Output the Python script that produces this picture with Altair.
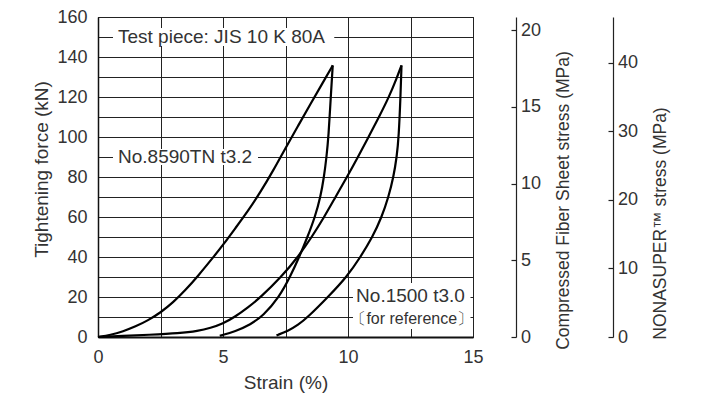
import altair as alt
import pandas as pd

# ---------------- data ----------------
# No.8590TN t3.2 (left loop)
load_8590_strain = [0.0, 0.5, 1.0, 1.5, 2.0, 2.5, 3.0, 3.5, 4.0, 4.62, 5.0, 5.5, 6.0, 6.5, 7.0, 7.5, 8.0, 8.5, 9.0, 9.39]
load_8590_force = [0.0, 1.0, 2.8, 5.2, 8.3, 12.2, 17.2, 23.5, 30.5, 40.0, 46.0, 54.5, 63.0, 72.5, 83.0, 94.5, 105.5, 116.5, 127.3, 135.8]
unload_8590_strain = [4.87, 5.5, 6.1, 6.6, 7.25, 7.68, 8.05, 8.38, 8.68, 8.9, 9.04, 9.14, 9.22, 9.31, 9.39]
unload_8590_force = [0.6, 2.8, 6.3, 10.5, 20.0, 30.0, 40.0, 50.0, 60.0, 70.0, 80.0, 90.0, 100.0, 120.0, 135.8]

# No.1500 t3.0 (right loop, for reference)
load_1500_strain = [0.0, 1.0, 2.0, 3.26, 4.0, 4.5, 5.0, 5.47, 6.0, 6.5, 7.33, 8.0, 8.55, 9.05, 9.5, 9.96, 10.4, 10.82, 11.24, 11.64, 11.95, 12.14]
load_1500_force = [0.0, 0.5, 1.1, 1.9, 3.0, 4.5, 6.7, 10.0, 14.8, 19.8, 30.0, 40.0, 50.0, 60.0, 70.0, 80.0, 90.0, 100.0, 110.0, 120.0, 129.5, 135.8]
unload_1500_strain = [7.14, 7.6, 8.0, 8.4, 9.2, 9.95, 10.5, 10.98, 11.35, 11.62, 11.82, 11.95, 12.03, 12.1, 12.14]
unload_1500_force = [0.8, 3.0, 6.0, 10.0, 20.0, 30.0, 40.0, 50.0, 60.0, 70.0, 80.0, 90.0, 100.0, 120.0, 135.8]

# axes
x_ticks = [0, 2.5, 5, 7.5, 10, 12.5, 15]
y_ticks = [0, 10, 20, 30, 40, 50, 60, 70, 80, 90, 100, 110, 120, 130, 140, 150, 160]
force_max = 160
fiber_max = 20.85        # Compressed Fiber Sheet stress at 160 kN
fiber_ticks = [0, 5, 10, 15, 20]
nona_max = 46.65         # NONASUPER stress at 160 kN
nona_ticks = [0, 10, 20, 30, 40]

# annotations (text, x, y)
label_text = ["Test piece: JIS 10 K 80A", "No.8590TN t3.2", "No.1500 t3.0"]
label_x = [0.8, 0.8, 12.5]
label_y = [150, 90, 20.5]
label_align = ["left", "left", "center"]
note_text = ["〔for reference〕"]
note_x = [12.55]
note_y = [9]
# white boxes behind annotations (strain x1,x2 ; force y1,y2)
box_x1 = [0.6, 0.6, 10.2]
box_x2 = [9.45, 6.4, 14.9]
box_y1 = [145.5, 86, 4]
box_y2 = [154.5, 94, 27]

FONT = "Liberation Sans"
TXT = "#333333"

rows = []
for name, xs, ys in [
    ("8590 load", load_8590_strain, load_8590_force),
    ("8590 unload", unload_8590_strain, unload_8590_force),
    ("1500 load", load_1500_strain, load_1500_force),
    ("1500 unload", unload_1500_strain, unload_1500_force),
]:
    for i, (a, b) in enumerate(zip(xs, ys)):
        rows.append({"series": name, "strain": a, "force": b, "i": i})
curves = pd.DataFrame(rows)

xscale = alt.Scale(domain=[0, 15], nice=False, zero=False)
yscale = alt.Scale(domain=[0, force_max], nice=False)

x_axis = alt.Axis(
    values=x_ticks, grid=True, ticks=False, labelPadding=11, labelFlush=False,
    labelExpr="datum.value % 5 == 0 ? datum.label : ''",
    title="Strain (%)", titleY=45, titleBaseline="middle",
    domainWidth=2, domainColor="#111",
)
y_axis = alt.Axis(
    values=y_ticks, grid=True, ticks=False, labelPadding=11, labelFlush=False,
    labelExpr="datum.value % 20 == 0 ? datum.label : ''",
    title="Tightening force (kN)", titleX=-57, titleY=152,
    titleAngle=270, titleAlign="center", titleBaseline="middle",
    domainWidth=1.5, domainColor="#111",
)


def X(field):
    return alt.X(field, scale=xscale, axis=x_axis, title="Strain (%)")


def Y(field):
    return alt.Y(field, scale=yscale, axis=y_axis, title="Tightening force (kN)")


lines = alt.Chart(curves).mark_line(
    interpolate="basis", strokeWidth=2.2, color="#000"
).encode(
    x=X("strain:Q"),
    y=Y("force:Q"),
    detail="series:N",
    order="i:Q",
)

boxes = alt.Chart(pd.DataFrame({"x1": box_x1, "x2": box_x2, "y1": box_y1, "y2": box_y2})).mark_rect(
    color="white"
).encode(
    x=X("x1:Q"), x2="x2:Q",
    y=Y("y1:Q"), y2="y2:Q",
)

labels_df = pd.DataFrame({"t": label_text, "x": label_x, "y": label_y, "a": label_align})
texts_left = alt.Chart(labels_df[labels_df.a == "left"]).mark_text(
    align="left", baseline="middle", font=FONT, fontSize=19, color=TXT
).encode(x=X("x:Q"), y=Y("y:Q"), text="t:N")
texts_center = alt.Chart(labels_df[labels_df.a == "center"]).mark_text(
    align="center", baseline="middle", font=FONT, fontSize=19, color=TXT
).encode(x=X("x:Q"), y=Y("y:Q"), text="t:N")
notes = alt.Chart(pd.DataFrame({"t": note_text, "x": note_x, "y": note_y})).mark_text(
    align="center", baseline="middle", font=FONT, fontSize=16, color=TXT
).encode(x=X("x:Q"), y=Y("y:Q"), text="t:N")

main = alt.layer(lines, boxes, texts_left, texts_center, notes)


def stress_axis(values, vmax, title, axis_x, title_dx, title_cy):
    df = pd.DataFrame({"v": [0, vmax]})
    return alt.Chart(df).mark_point(opacity=0).encode(
        x=alt.value(0),
        y=alt.Y("v:Q", scale=alt.Scale(domain=[0, vmax], nice=False),
                axis=alt.Axis(
                    orient="left", offset=-axis_x, values=values, grid=False,
                    ticks=True, tickSize=5, tickColor="#222", tickWidth=1.2,
                    domainColor="#222", domainWidth=1.2,
                    labelAlign="left", labelPadding=-9.5, labelFlush=False,
                    title=title, titleX=title_dx, titleY=title_cy, titleFontSize=17.5,
                    titleAngle=270, titleAlign="center", titleBaseline="middle",
                )),
    )


ax_fiber = stress_axis(fiber_ticks, fiber_max, "Compressed Fiber Sheet stress (MPa)", 418, 47, 183)
ax_nona = stress_axis(nona_ticks, nona_max, "NONASUPER™ stress (MPa)", 515, 47, 206)

chart = alt.layer(main, ax_fiber, ax_nona).resolve_scale(y="independent").properties(
    width=375, height=320,
    autosize=alt.AutoSizeParams(type="none"),
    padding={"left": 98, "top": 17, "right": 233, "bottom": 57},
    background="white",
).configure_view(
    stroke="#111", strokeWidth=1
).configure_axis(
    labelFont=FONT, labelFontSize=18, labelColor=TXT,
    titleFont=FONT, titleFontSize=19, titleColor=TXT, titleFontWeight="normal",
    gridColor="#222", gridWidth=1, gridOpacity=1,
)

chart.save("out.html", embed_options={"renderer": "svg", "actions": False})
